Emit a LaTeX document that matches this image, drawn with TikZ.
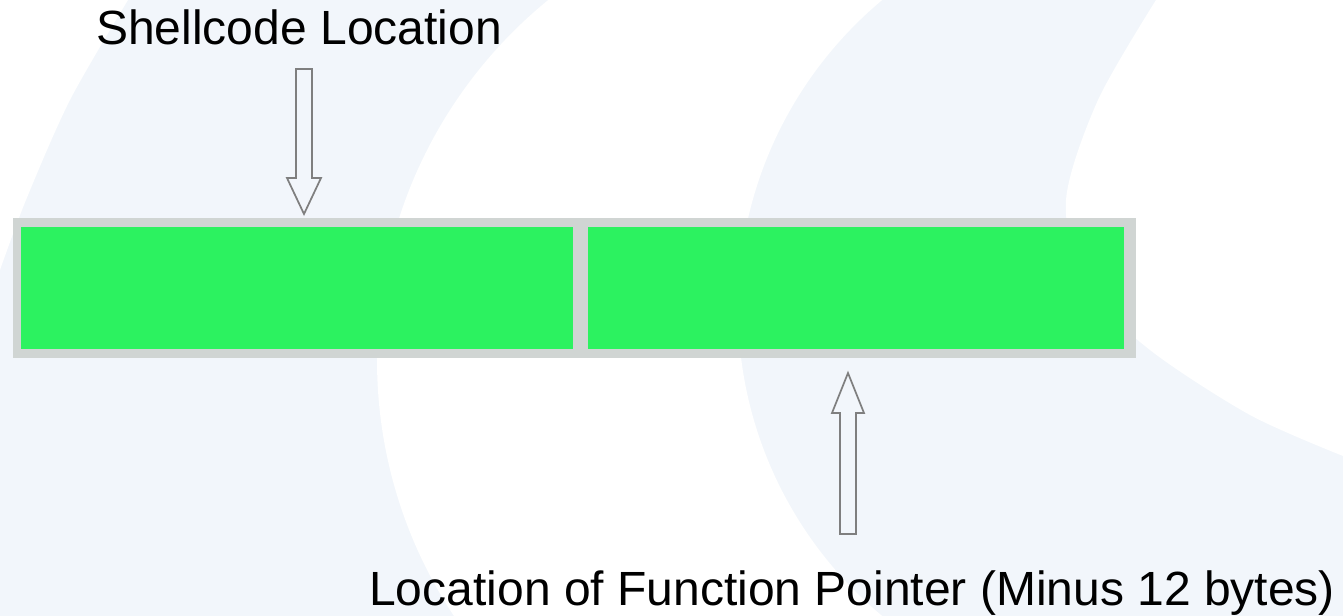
\documentclass[tikz,border=0pt]{standalone}
\usepackage{fontspec}
\setmainfont{Liberation Sans}
\definecolor{bgblue}{RGB}{242,246,251}
\definecolor{cellgreen}{RGB}{44,242,96}
\definecolor{bargray}{RGB}{208,213,211}
\definecolor{arrowgray}{RGB}{127,127,127}
\tikzset{
  labeltext/.style={font=\fontsize{36}{43}\selectfont, inner sep=0pt, anchor=base west, text=black},
  cellbox/.style={fill=cellgreen, draw=none, inner sep=0pt, minimum height=91.5pt},
  barbox/.style={fill=bargray, draw=none, inner sep=0pt},
  blockarrow/.style={draw=arrowgray, line width=1.3pt, line join=miter, fill=none},
}
\begin{document}
\begin{tikzpicture}[x=0.75pt, y=-0.75pt]
\useasboundingbox (0,0) rectangle (1343,616);
% background watermark
\fill[bgblue] (0,0) rectangle (1343,616);
\begin{scope}
  \clip (841,360) circle (348pt);
  \fill[white, even odd rule] (0,0) rectangle (1343,616) (1139,308) circle (300.75pt);
\end{scope}
\fill[white] plot[smooth] coordinates {(1156,0) (1098,100) (1066,200) (1085,285) (1150,350) (1250,415) (1343,456)}
  -- (1343,0) -- cycle;
\fill[white] (0,0) -- plot[smooth] coordinates {(128,0) (70,100) (26,200) (0,270)} -- cycle;

% bar
\node[barbox, minimum width=842.25pt, minimum height=105pt] (bar) at (574.5,288) {};
\node[cellbox, minimum width=414pt] (cellA) at (297,288) {};
\node[cellbox, minimum width=402pt] (cellB) at (856,288) {};

% labels
\node[labeltext] (lbl1) at (96,45) {Shellcode Location};
\node[labeltext] (lbl2) at (369,605) {Location of Function Pointer (Minus 12 bytes)};

% block arrows
\coordinate (tipA) at (304,214);
\coordinate (tipB) at (848,373);
\draw[blockarrow] (296,69) -- (312,69) -- (312,178) -- (321,178) -- (tipA) -- (287,178) -- (296,178) -- cycle;
\draw[blockarrow] (840,534) -- (856,534) -- (856,413) -- (864,413) -- (tipB) -- (832,413) -- (840,413) -- cycle;
\end{tikzpicture}
\end{document}
